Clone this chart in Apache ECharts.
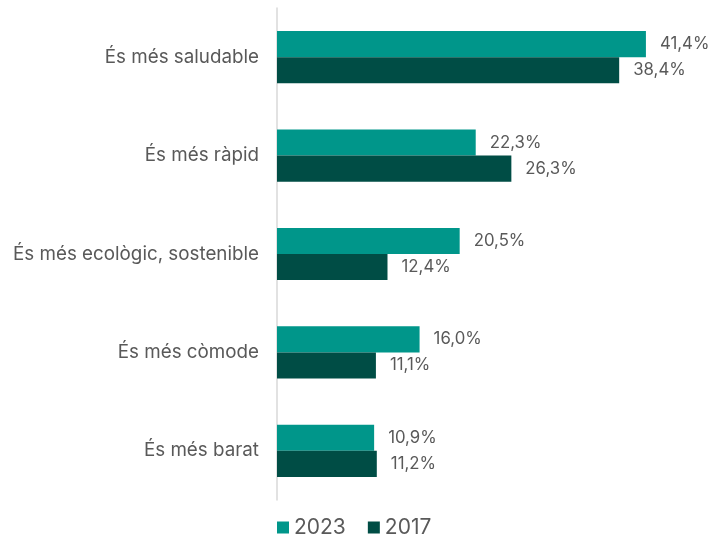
<!DOCTYPE html>
<html>
<head>
<meta charset="utf-8">
<title>Motius</title>
<script src="https://cdn.jsdelivr.net/npm/echarts@6/dist/echarts.min.js"></script>
<style>
  html, body { margin: 0; padding: 0; background: #fff; }
  #chart { width: 709px; height: 544px; }
</style>
</head>
<body>
<div id="chart"></div>
<script>
var categories = ['És més saludable', 'És més ràpid', 'És més ecològic, sostenible', 'És més còmode', 'És més barat'];
var values2023 = [41.4, 22.3, 20.5, 16.0, 10.9];
var values2017 = [38.4, 26.3, 12.4, 11.1, 11.2];
var seriesNames = ['2023', '2017'];

var fontFamily = 'Inter, "Noto Sans", sans-serif';

function fmt(p) {
  return p.value.toFixed(1).replace('.', ',') + '%';
}

var chart = echarts.init(document.getElementById('chart'));
chart.setOption({
  animation: false,
  textStyle: { fontFamily: fontFamily },
  color: ['#00968a', '#004d45'],
  legend: {
    data: seriesNames,
    bottom: 1,
    left: 272,
    itemWidth: 12,
    itemHeight: 12,
    itemGap: 22,
    icon: 'rect',
    textStyle: { fontSize: 21, color: '#595959', fontFamily: fontFamily }
  },
  grid: { left: 277, right: 31, top: 8, bottom: 44, containLabel: false },
  xAxis: {
    type: 'value',
    min: 0,
    max: 45,
    show: false
  },
  yAxis: {
    type: 'category',
    data: categories,
    inverse: true,
    axisLine: { show: true, lineStyle: { color: '#d9d9d9', width: 1.5 } },
    axisTick: { show: false },
    axisLabel: { fontSize: 18.8, color: '#595959', margin: 18 }
  },
  series: [
    {
      name: seriesNames[0],
      type: 'bar',
      data: values2023,
      barGap: '0%',
      barCategoryGap: '47%',
      label: { show: true, position: 'right', distance: 14, formatter: fmt, fontSize: 16.8, color: '#595959' }
    },
    {
      name: seriesNames[1],
      type: 'bar',
      data: values2017,
      label: { show: true, position: 'right', distance: 14, formatter: fmt, fontSize: 16.8, color: '#595959' }
    }
  ]
});
</script>
</body>
</html>
